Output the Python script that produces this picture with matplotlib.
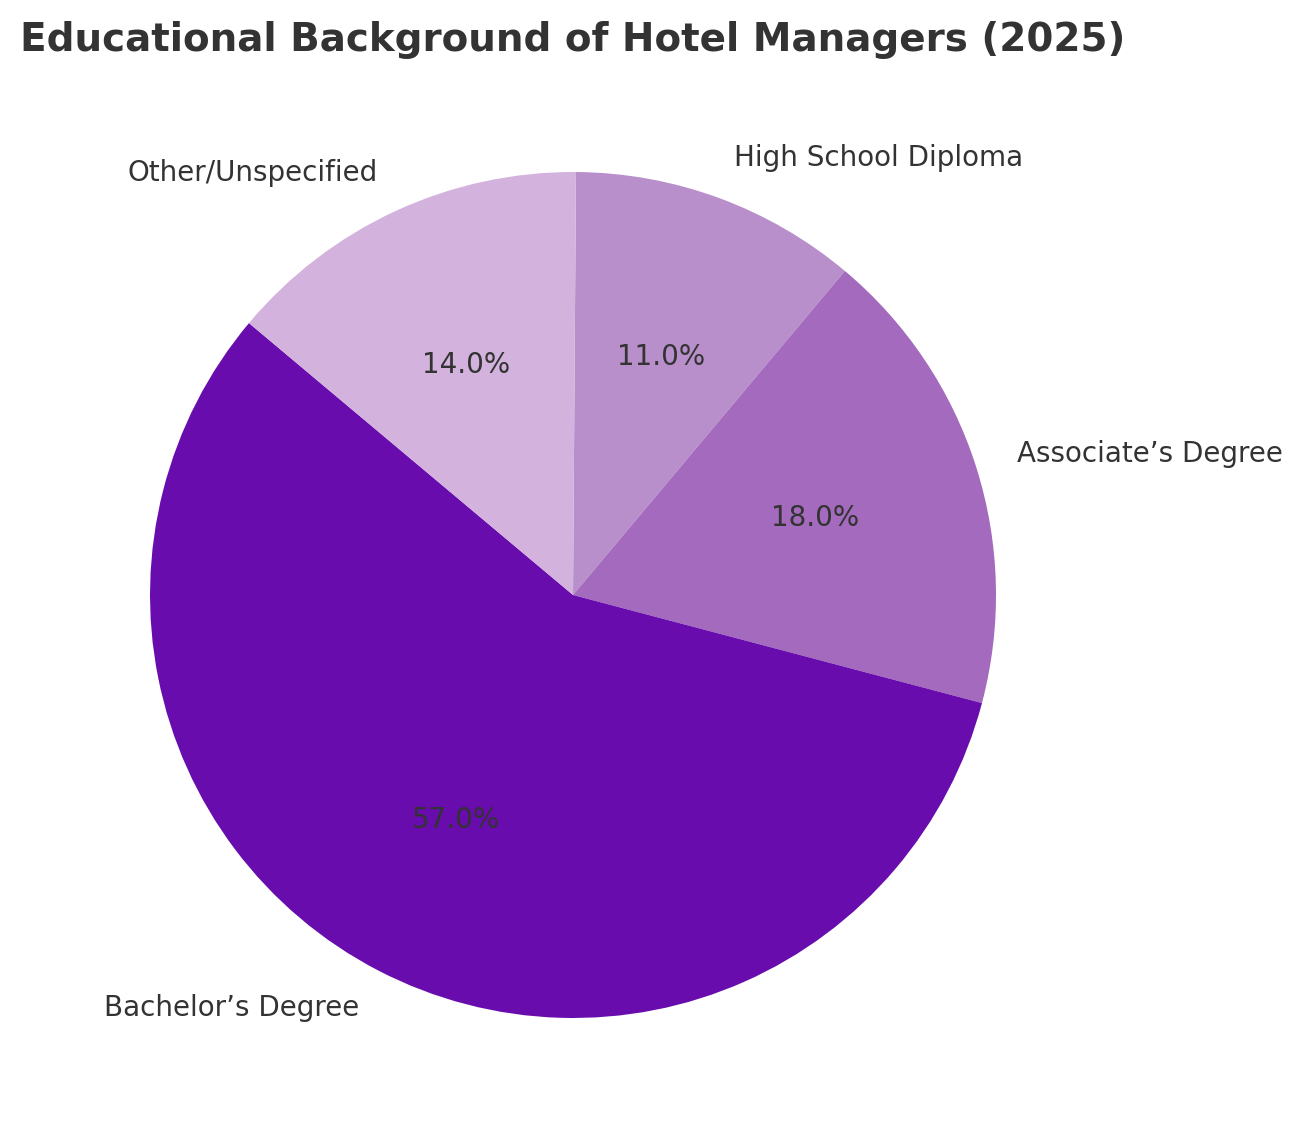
import matplotlib.pyplot as plt

categories = ["High School Diploma", "Associate\u2019s Degree", "Bachelor\u2019s Degree", "Other/Unspecified"]
shares = [11, 18, 57, 14]
colors = ["#B98FCB", "#A36ABD", "#680CAD", "#D3B2DD"]

plt.rcParams['font.family'] = ['DejaVu Sans']
plt.rcParams['text.color'] = '#333333'

fig = plt.figure(figsize=(6.51, 5.72), dpi=200)
ax = fig.add_axes([0.034, 0.0177, 0.8122, 0.9244])

ax.pie(shares, labels=categories, colors=colors, startangle=89.6, counterclock=False,
       autopct='%1.1f%%', pctdistance=0.6, labeldistance=1.1,
       textprops={'fontsize': 10, 'color': '#333333'})
ax.set_aspect('equal')

# titulo alineado a la izquierda
fig.text(0.015, 0.9554, "Educational Background of Hotel Managers (2025)",
         ha='left', va='baseline', fontsize=14, fontweight='bold', color='#333333')

fig.savefig("out.png", dpi=200)
